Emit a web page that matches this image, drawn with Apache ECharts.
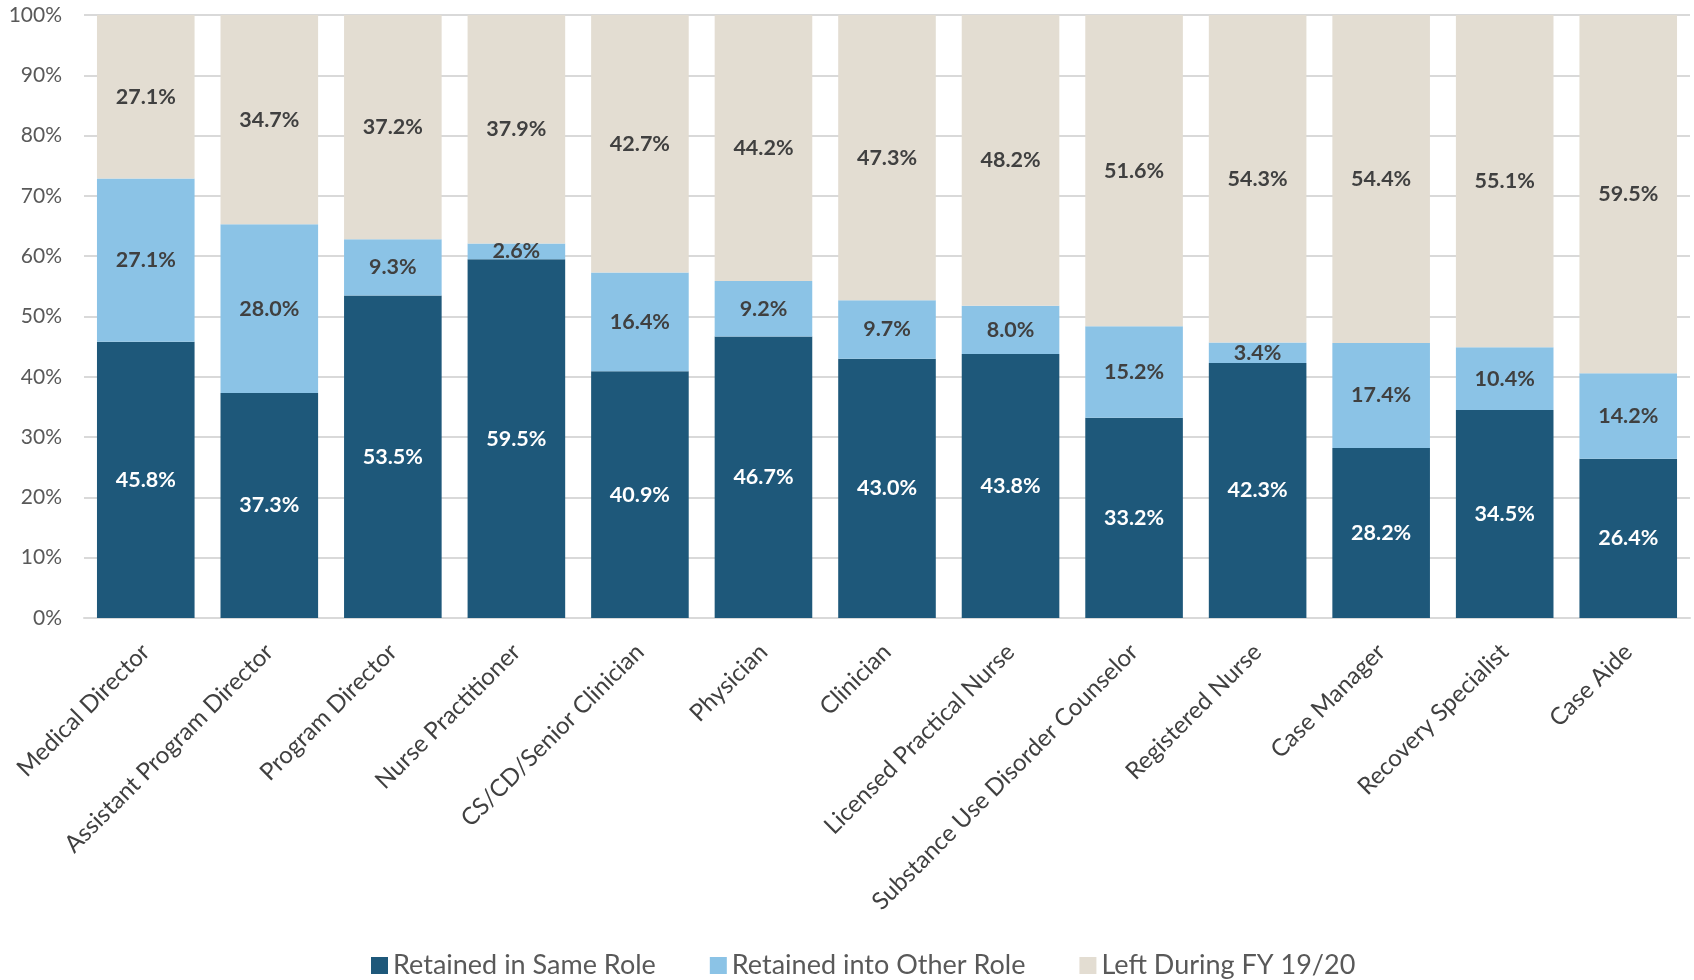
<!DOCTYPE html>
<html>
<head>
<meta charset="utf-8">
<title>Staff Retention by Role, FY 19/20</title>
<script src="https://cdn.jsdelivr.net/npm/echarts@6/dist/echarts.min.js"></script>
<style>
  html, body { margin: 0; padding: 0; background: #ffffff; }
  #chart { width: 1694px; height: 980px; }
</style>
</head>
<body>
<div id="chart"></div>
<script>
// Job roles along the x axis
const roles = [
  'Medical Director', 'Assistant Program Director', 'Program Director',
  'Nurse Practitioner', 'CS/CD/Senior Clinician', 'Physician', 'Clinician',
  'Licensed Practical Nurse', 'Substance Use Disorder Counselor',
  'Registered Nurse', 'Case Manager', 'Recovery Specialist', 'Case Aide'
];

// Share of staff (%) in each outcome
const retainedSameRole  = [45.8, 37.3, 53.5, 59.5, 40.9, 46.7, 43.0, 43.8, 33.2, 42.3, 28.2, 34.5, 26.4];
const retainedOtherRole = [27.1, 28.0, 9.3, 2.6, 16.4, 9.2, 9.7, 8.0, 15.2, 3.4, 17.4, 10.4, 14.2];
const leftDuringFY      = [27.1, 34.7, 37.2, 37.9, 42.7, 44.2, 47.3, 48.2, 51.6, 54.3, 54.4, 55.1, 59.5];

const seriesNames = ['Retained in Same Role', 'Retained into Other Role', 'Left During FY 19/20'];
const yTicks = { min: 0, max: 100, interval: 10 };

const FONT = 'Lato, "Open Sans", sans-serif';
const colors = ['#1E587A', '#8BC3E6', '#E3DDD2'];
const labelColors = ['#ffffff', '#404040', '#404040'];

function makeSeries(name, values, idx) {
  return {
    name: name,
    type: 'bar',
    stack: 'total',
    data: values,
    barCategoryGap: '21%',
    itemStyle: { color: colors[idx] },
    label: {
      show: true,
      position: 'inside',
      formatter: p => p.value.toFixed(1) + '%',
      color: labelColors[idx],
      fontFamily: FONT,
      fontWeight: 'bold',
      fontSize: 21.5
    },
    emphasis: { disabled: true }
  };
}

const chart = echarts.init(document.getElementById('chart'), null, { renderer: 'canvas' });
chart.setOption({
  animation: false,
  backgroundColor: '#ffffff',
  textStyle: { fontFamily: FONT },
  grid: { left: 84, right: 4, top: 15, bottom: 362, containLabel: false },
  legend: {
    left: 366,
    top: 947,
    itemWidth: 17,
    itemHeight: 17,
    itemGap: 54,
    icon: 'rect',
    textStyle: { fontFamily: FONT, fontSize: 27, color: '#595959' },
    data: seriesNames
  },
  xAxis: {
    type: 'category',
    data: roles,
    axisTick: { show: false },
    axisLine: { show: true, lineStyle: { color: '#D9D9D9', width: 2 } },
    axisLabel: {
      rotate: 45,
      interval: 0,
      margin: 30,
      fontFamily: FONT,
      fontSize: 24,
      color: '#404040'
    }
  },
  yAxis: {
    type: 'value',
    min: yTicks.min,
    max: yTicks.max,
    interval: yTicks.interval,
    axisLine: { show: false },
    axisTick: { show: false },
    splitLine: { lineStyle: { color: '#D9D9D9', width: 2 } },
    axisLabel: {
      formatter: v => v + '%',
      margin: 22,
      fontFamily: FONT,
      fontSize: 21,
      color: '#595959'
    }
  },
  series: [
    makeSeries(seriesNames[0], retainedSameRole, 0),
    makeSeries(seriesNames[1], retainedOtherRole, 1),
    makeSeries(seriesNames[2], leftDuringFY, 2)
  ]
});
</script>
</body>
</html>
